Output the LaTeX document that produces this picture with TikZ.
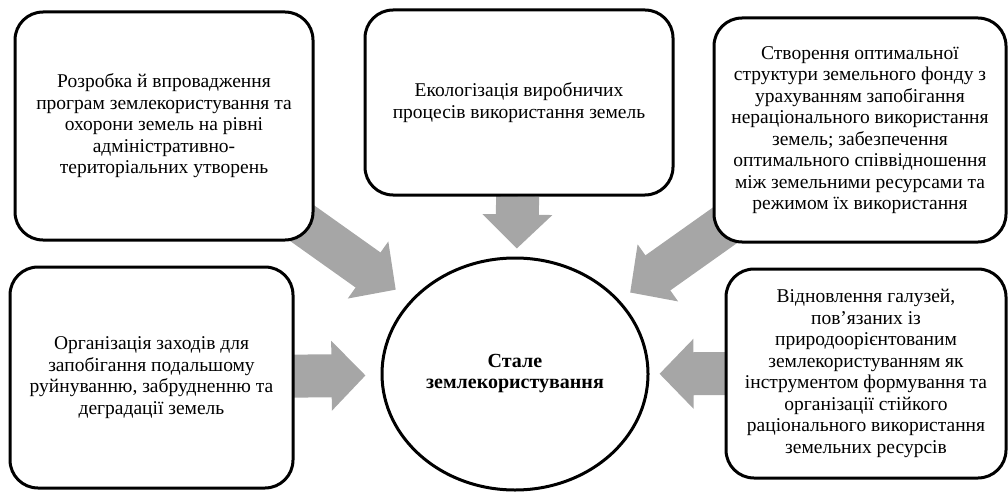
\documentclass[tikz,border=0pt]{standalone}
\usepackage{fontspec}
\setmainfont{Liberation Serif}
\usetikzlibrary{shapes.geometric, arrows.meta, backgrounds}

\definecolor{arrowgray}{RGB}{166,166,166}
\tikzset{
  box/.style={draw, line width=3pt, rounded corners=28pt, fill=white, align=center,
    inner sep=0pt, font=\fontsize{19.5}{21.5}\selectfont},
  goal/.style={draw, ellipse, line width=3pt, fill=white, align=center,
    inner sep=0pt, font=\bfseries\fontsize{20}{21}\selectfont},
  flow/.style={draw=arrowgray, line width=43pt, -{Triangle[length=34pt, width=68pt]}}
}

\begin{document}
\begin{tikzpicture}[x=1pt, y=-1pt]
\useasboundingbox (0,0) rectangle (1008,492);
\node[box, minimum width=298pt, minimum height=228pt] (rozrobka) at (164,126)
  {Розробка й впровадження\\програм землекористування та\\охорони земель на рівні\\адміністративно-\\територіальних утворень};
\node[box, minimum width=308pt, minimum height=185pt] (ekolog) at (519,102.5)
  {Екологізація виробничих\\процесів використання земель};
\node[box, minimum width=292pt, minimum height=224pt] (struktura) at (860,130)
  {Створення оптимальної\\структури земельного фонду з\\урахуванням запобігання\\нераціонального використання\\земель; забезпечення\\оптимального співвідношення\\між земельними ресурсами та\\режимом їх використання};
\node[box, minimum width=283pt, minimum height=221pt] (zahody) at (151.5,377.5)
  {Організація заходів для\\запобігання подальшому\\руйнуванню, забрудненню та\\деградації земель};
\node[box, minimum width=280pt, minimum height=209pt] (vidnovl) at (866,373.5)
  {Відновлення галузей,\\пов’язаних із\\природоорієнтованим\\землекористуванням як\\інструментом формування та\\організації стійкого\\раціонального використання\\земельних ресурсів};
\node[goal, minimum width=266pt, minimum height=232pt] (stale) at (515,374)
  {Стале\\землекористування};

\begin{scope}[on background layer]
  \draw[flow, shorten <=-20pt, shorten >=18pt] (rozrobka) -- (stale);
  \draw[flow, shorten >=8pt] (ekolog) -- (stale);
  \draw[flow, shorten <=-20pt, shorten >=13pt] (struktura) -- (stale);
  \draw[flow, shorten <=-10pt, shorten >=15pt] (zahody) -- (stale);
  \draw[flow, shorten <=-10pt, shorten >=10pt] (vidnovl) -- (stale);
\end{scope}
\end{tikzpicture}
\end{document}
